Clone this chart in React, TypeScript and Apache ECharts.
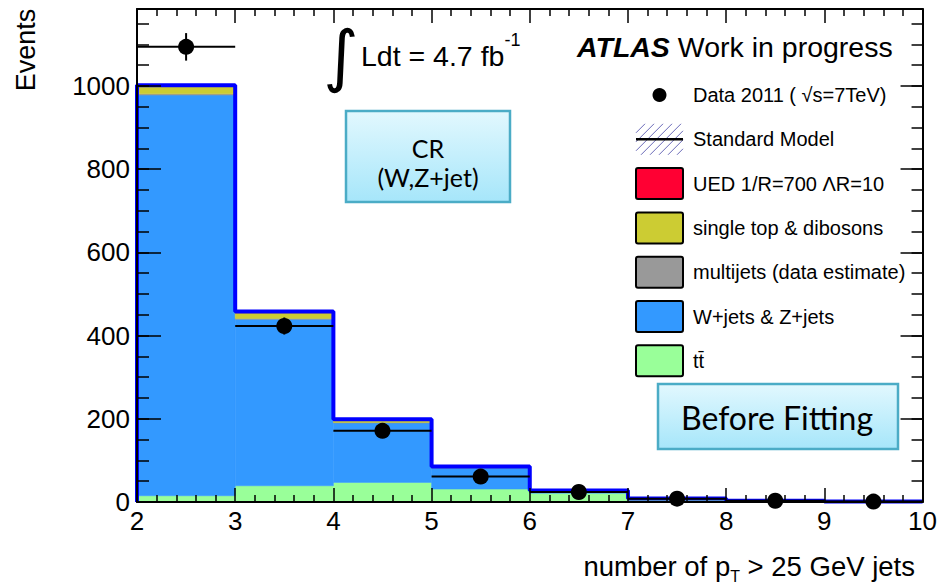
import { useEffect, useRef } from 'react';
import * as echarts from 'echarts';

// ---------- data ----------
const binLow = [2, 3, 4, 5, 6, 7, 8, 9];
const binHigh = [3, 4, 5, 6, 7, 8, 9, 10];
const ttbar = [15, 39, 47, 31, 21, 6, 1.5, 0.5];
const wzJets = [963, 400, 143, 51, 5, 1.5, 1, 0.5];
const multijets = [3, 2, 1, 0.5, 0.3, 0.1, 0.05, 0];
const singleTopDibosons = [20, 14, 6, 2, 1, 0.3, 0.1, 0.05];
const ued = [1, 3, 2, 1, 0.5, 0.3, 0.2, 0.1];
const dataCounts = [1094, 423, 171, 61, 24, 8, 3, 1];
const yTickLabels = [0, 200, 400, 600, 800, 1000];
const xTickLabels = [2, 3, 4, 5, 6, 7, 8, 9, 10];

const dataLabel = 'Data 2011 ( \u221As=7TeV)';
const smLabel = 'Standard Model';
// stack order bottom -> top
const components = [
  { name: 't t\u0304', label: 'tt\u0304', values: ttbar, color: '#99ff99' },
  { name: 'W+jets & Z+jets', label: 'W+jets & Z+jets', values: wzJets, color: '#3399ff' },
  { name: 'multijets', label: 'multijets (data estimate)', values: multijets, color: '#999999' },
  { name: 'single top & dibosons', label: 'single top & dibosons', values: singleTopDibosons, color: '#cccc33' },
  { name: 'UED', label: 'UED 1/R=700 \u039BR=10', values: ued, color: '#ff0033' },
];

const FONT = 'Liberation Sans, Arial, Helvetica, sans-serif';
const BOXFONT = 'Lato, Open Sans, sans-serif';

export default function App() {
  const ref = useRef<HTMLDivElement>(null);

  useEffect(() => {
    if (!ref.current) return;
    const chart = echarts.init(ref.current, undefined, { renderer: 'svg' });

    // stacked histograms
    const base = binLow.map(() => 0);
    const stackSeries: any[] = components.map((c) => {
      const data = binLow.map((lo, i) => {
        const y0 = base[i];
        const y1 = y0 + c.values[i];
        base[i] = y1;
        return [lo, binHigh[i], y0, y1];
      });
      return {
        type: 'custom',
        name: c.name,
        z: 2,
        data,
        encode: { x: [0, 1], y: [2, 3] },
        renderItem: (_p: any, api: any) => {
          const a = api.coord([api.value(0), api.value(3)]);
          const b = api.coord([api.value(1), api.value(2)]);
          return {
            type: 'rect',
            shape: { x: a[0], y: a[1], width: b[0] - a[0], height: b[1] - a[1] },
            style: { fill: c.color, stroke: c.color, lineWidth: 0.5 },
          };
        },
      };
    });
    const totals = base.slice();

    // outline of the total
    const outline: number[][] = [[binLow[0], 0]];
    binLow.forEach((lo, i) => {
      outline.push([lo, totals[i]]);
      outline.push([binHigh[i], totals[i]]);
    });
    outline.push([binHigh[binHigh.length - 1], 0]);

    const errData = binLow.map((lo, i) => [lo, binHigh[i], (lo + binHigh[i]) / 2, dataCounts[i], Math.sqrt(dataCounts[i])]);
    const pointData = binLow.map((lo, i) => [(lo + binHigh[i]) / 2, dataCounts[i]]);

    const axisLineStyle = { color: '#000', width: 2 };
    const tickStyle = { color: '#000', width: 1.5 };
    const mkX = (position: string, labels: boolean) => ({
      type: 'value', min: 2, max: 10, interval: 1, position, z: 10,
      axisLine: { show: true, onZero: false, lineStyle: axisLineStyle },
      axisTick: { show: true, inside: true, length: 14, lineStyle: tickStyle },
      minorTick: { show: true, splitNumber: 5, length: 7, lineStyle: tickStyle },
      splitLine: { show: false },
      axisLabel: labels
        ? { show: true, fontSize: 26, color: '#000', fontFamily: FONT, margin: 6,
            formatter: (v: number) => (xTickLabels.includes(v) ? String(v) : '') }
        : { show: false },
    });
    const mkY = (position: string, interval: number, len: number, labels: boolean, line: boolean) => ({
      type: 'value', min: 0, max: 1185, interval, position, z: 10,
      axisLine: { show: line, onZero: false, lineStyle: axisLineStyle },
      axisTick: { show: true, inside: true, length: len, lineStyle: tickStyle },
      splitLine: { show: false },
      axisLabel: labels
        ? { show: true, fontSize: 26, color: '#000', fontFamily: FONT, margin: 7,
            formatter: (v: number) => (yTickLabels.includes(v) ? String(v) : '') }
        : { show: false },
    });

    // legend graphics
    const legendX = 636, boxW = 47, boxH = 31, textX = 693, rowY0 = 95, rowStep = 44.3;
    const g: any[] = [];
    const legendText = (label: string, cy: number) => ({
      type: 'text', x: textX, y: cy, z: 20,
      style: { text: label, fontSize: 20, fontFamily: FONT, fill: '#000', align: 'left', verticalAlign: 'middle', textAlign: 'left', textVerticalAlign: 'middle' },
    });
    // data
    g.push({ type: 'circle', shape: { cx: legendX + boxW / 2, cy: rowY0, r: 7 }, style: { fill: '#000' }, z: 20 });
    g.push(legendText(dataLabel, rowY0));
    // SM hatched
    {
      const cy = rowY0 + rowStep;
      const x0 = legendX, y1 = cy + boxH / 2, W = boxW, H = boxH, s = 9;
      for (let d = -H; d < W; d += s) {
        const u0 = Math.max(0, d), u1 = Math.min(W, H + d);
        if (u1 <= u0) continue;
        g.push({ type: 'line', z: 19, shape: { x1: x0 + u0, y1: y1 - (u0 - d), x2: x0 + u1, y2: y1 - (u1 - d) }, style: { stroke: '#6a6ab8', lineWidth: 1 } });
      }
      g.push({ type: 'line', z: 20, shape: { x1: legendX, y1: cy, x2: legendX + boxW, y2: cy }, style: { stroke: '#000', lineWidth: 2.5 } });
      g.push(legendText(smLabel, cy));
    }
    components.slice().reverse().forEach((c, k) => {
      const cy = rowY0 + rowStep * (k + 2);
      g.push({ type: 'rect', z: 20, shape: { x: legendX, y: cy - boxH / 2, width: boxW, height: boxH, r: 2 }, style: { fill: c.color, stroke: '#000', lineWidth: 2 } });
      g.push(legendText(c.label, cy));
    });

    // titles and annotations
    g.push({
      type: 'text', x: 577, y: 46.5, z: 20,
      style: {
        text: '{b|ATLAS} Work in progress', fontSize: 28.5, fontFamily: FONT, fill: '#000',
        align: 'left', verticalAlign: 'middle', textAlign: 'left', textVerticalAlign: 'middle',
        rich: { b: { fontSize: 28.5, fontFamily: FONT, fontWeight: 'bold', fontStyle: 'italic', fill: '#000' } },
      },
    });
    g.push({
      type: 'text', x: 341, y: 55, z: 20,
      style: { text: '\u222B', fontSize: 68, fontFamily: 'DejaVu Sans, sans-serif', fill: '#000', align: 'center', verticalAlign: 'middle', textAlign: 'center', textVerticalAlign: 'middle' },
    });
    g.push({
      type: 'text', x: 361, y: 56, z: 20,
      style: {
        text: '{n|Ldt = 4.7 fb}{s|-1}', fill: '#000',
        align: 'left', verticalAlign: 'middle', textAlign: 'left', textVerticalAlign: 'middle',
        rich: {
          n: { fontSize: 28.5, fontFamily: FONT, lineHeight: 50, fill: '#000' },
          s: { fontSize: 18, fontFamily: FONT, verticalAlign: 'top', fill: '#000' },
        },
      },
    });
    g.push({
      type: 'text', x: 26, y: 50, z: 20, rotation: Math.PI / 2,
      style: { text: 'Events', fontSize: 27, fontFamily: FONT, fill: '#000', align: 'center', verticalAlign: 'middle', textAlign: 'center', textVerticalAlign: 'middle' },
    });
    g.push({
      type: 'text', x: 915, y: 566, z: 20,
      style: {
        text: '{n|number of p}{s|T}{n| > 25 GeV jets}', fill: '#000',
        align: 'right', verticalAlign: 'middle', textAlign: 'right', textVerticalAlign: 'middle',
        rich: {
          n: { fontSize: 27.5, fontFamily: FONT, lineHeight: 36, fill: '#000' },
          s: { fontSize: 16, fontFamily: FONT, verticalAlign: 'bottom', fill: '#000' },
        },
      },
    });
    const boxFill = { type: 'linear', x: 0, y: 0, x2: 0, y2: 1, colorStops: [{ offset: 0, color: '#e2f8fe' }, { offset: 1, color: '#a6e6fa' }] };
    g.push({ type: 'rect', z: 15, shape: { x: 346, y: 111, width: 164, height: 91 }, style: { fill: boxFill, stroke: '#4bacc6', lineWidth: 2.5 } });
    g.push({
      type: 'text', x: 428, y: 148, z: 16,
      style: { text: 'CR', fontSize: 25, fontFamily: BOXFONT, fill: '#000', align: 'center', verticalAlign: 'middle', textAlign: 'center', textVerticalAlign: 'middle' },
    });
    g.push({
      type: 'text', x: 428, y: 177, z: 16,
      style: { text: '(W,Z+jet)', fontSize: 25, fontFamily: BOXFONT, fill: '#000', align: 'center', verticalAlign: 'middle', textAlign: 'center', textVerticalAlign: 'middle' },
    });
    g.push({ type: 'rect', z: 15, shape: { x: 658, y: 384, width: 240, height: 65 }, style: { fill: boxFill, stroke: '#4bacc6', lineWidth: 2.5 } });
    g.push({
      type: 'text', x: 777, y: 417, z: 16,
      style: { text: 'Before Fitting', fontSize: 32, fontFamily: BOXFONT, fill: '#000', align: 'center', verticalAlign: 'middle', textAlign: 'center', textVerticalAlign: 'middle' },
    });

    chart.setOption({
      animation: false,
      backgroundColor: '#fff',
      grid: { left: 137, top: 9, width: 788, height: 493, containLabel: false },
      xAxis: [mkX('bottom', true), mkX('top', false)],
      yAxis: [
        mkY('left', 200, 24, true, true),
        mkY('left', 50, 12, false, false),
        mkY('right', 200, 22, false, true),
        mkY('right', 50, 11, false, false),
      ],
      series: [
        ...stackSeries,
        {
          type: 'line', name: 'total', z: 4, data: outline, symbol: 'none',
          lineStyle: { color: '#0000ff', width: 4 }, silent: true,
        },
        {
          type: 'custom', name: 'errors', z: 5, data: errData,
          encode: { x: [0, 1], y: 3 },
          renderItem: (_p: any, api: any) => {
            const y = api.value(3), e = api.value(4);
            const l = api.coord([api.value(0), y]);
            const r = api.coord([api.value(1), y]);
            const t = api.coord([api.value(2), y + e]);
            const b = api.coord([api.value(2), Math.max(0, y - e)]);
            return {
              type: 'group',
              children: [
                { type: 'line', shape: { x1: l[0], y1: l[1], x2: r[0], y2: r[1] }, style: { stroke: '#000', lineWidth: 2 } },
                { type: 'line', shape: { x1: t[0], y1: t[1], x2: b[0], y2: b[1] }, style: { stroke: '#000', lineWidth: 2 } },
              ],
            };
          },
        },
        {
          type: 'scatter', name: dataLabel, z: 6, data: pointData, symbol: 'circle', symbolSize: 16,
          itemStyle: { color: '#000', opacity: 1 },
        },
      ],
      graphic: g,
    });

    return () => chart.dispose();
  }, []);

  return <div ref={ref} style={{ position: 'fixed', left: 0, top: 0, width: 940, height: 588, background: '#fff' }} />;
}
